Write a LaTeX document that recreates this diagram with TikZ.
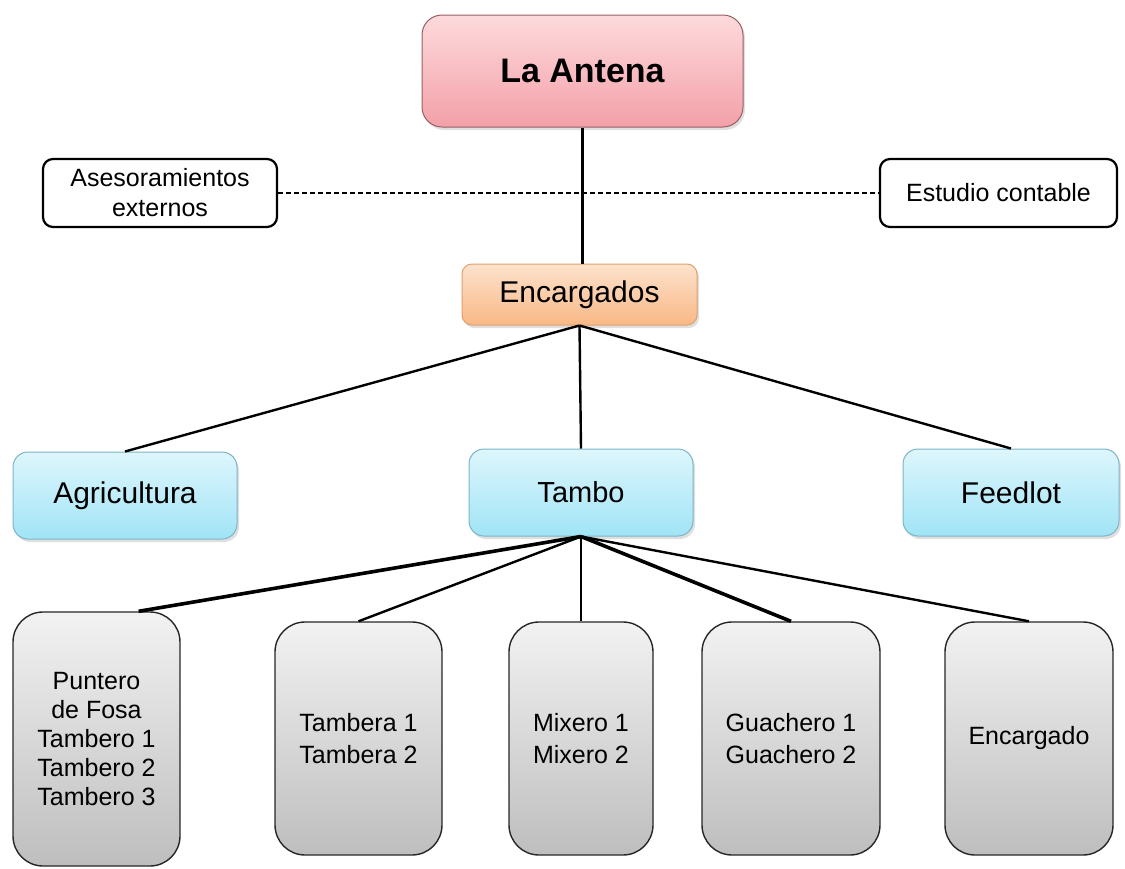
\documentclass[tikz,border=0pt]{standalone}
\usepackage{fontspec}
\setmainfont{Liberation Sans}
\usetikzlibrary{shadows,calc}

\definecolor{pinkTop}{RGB}{253,218,220}
\definecolor{pinkBot}{RGB}{243,160,168}
\definecolor{pinkLine}{RGB}{150,95,100}
\definecolor{orangeTop}{RGB}{253,226,204}
\definecolor{orangeBot}{RGB}{249,184,134}
\definecolor{orangeLine}{RGB}{222,160,110}
\definecolor{blueTop}{RGB}{222,246,252}
\definecolor{blueBot}{RGB}{160,228,246}
\definecolor{blueLine}{RGB}{125,180,200}
\definecolor{grayTop}{RGB}{242,242,242}
\definecolor{grayBot}{RGB}{190,190,190}

\tikzset{
  box/.style={rectangle, inner sep=0pt, align=center, text=black},
  headbox/.style={box, rounded corners=20pt, draw=pinkLine, line width=1pt,
    top color=pinkTop, bottom color=pinkBot,
    drop shadow={shadow xshift=2pt, shadow yshift=-3pt, opacity=0.25},
    font=\fontsize{34}{40}\selectfont\bfseries},
  sidebox/.style={box, rounded corners=10pt, draw=black, line width=2.2pt, fill=white,
    font=\fontsize{25}{30}\selectfont},
  managerbox/.style={box, rounded corners=10pt, draw=orangeLine, line width=1pt,
    top color=orangeTop, bottom color=orangeBot,
    drop shadow={shadow xshift=2pt, shadow yshift=-3pt, opacity=0.25},
    font=\fontsize{30}{36}\selectfont},
  areabox/.style={box, rounded corners=15pt, draw=blueLine, line width=1pt,
    top color=blueTop, bottom color=blueBot,
    drop shadow={shadow xshift=2pt, shadow yshift=-3pt, opacity=0.25},
    font=\fontsize{30}{36}\selectfont},
  staffbox/.style={box, rounded corners=30pt, draw=black!85, line width=1.4pt,
    top color=grayTop, bottom color=grayBot,
    font=\fontsize{25}{32}\selectfont},
  link/.style={draw=black, line width=2.4pt},
  thicklink/.style={draw=black, line width=3.6pt},
}

\begin{document}
\begin{tikzpicture}[x=1pt, y=1pt]
  \useasboundingbox (0,0) rectangle (1125,-868);

  % top of the organisation
  \node[headbox, minimum width=321pt, minimum height=112pt] (antena) at (582.5,-71) {La Antena};

  % external advisors
  \node[sidebox, minimum width=234pt, minimum height=68pt] (ases) at (160,-193)
    {Asesoramientos\\externos};
  \node[sidebox, minimum width=237pt, minimum height=68pt] (estud) at (998.5,-193)
    {Estudio contable};

  % managers
  \node[managerbox, minimum width=235pt, minimum height=61pt] (encarg) at (579.5,-294.5) {Encargados};

  % business areas
  \node[areabox, minimum width=224pt, minimum height=87pt] (agri) at (125,-495.5) {Agricultura};
  \node[areabox, minimum width=224pt, minimum height=87pt, font=\fontsize{29}{35}\selectfont] (tambo) at (581,-492.5) {Tambo};
  \node[areabox, minimum width=216pt, minimum height=87pt] (feed) at (1011,-492.5) {Feedlot};

  % dairy staff
  \node[staffbox, minimum width=167pt, minimum height=254pt, font=\fontsize{25}{29}\selectfont] (punt) at (96.5,-739)
    {Puntero\\de Fosa\\Tambero 1\\Tambero 2\\Tambero 3};
  \node[staffbox, minimum width=167pt, minimum height=233pt] (tambera) at (358.5,-738.5)
    {Tambera 1\\Tambera 2};
  \node[staffbox, minimum width=144pt, minimum height=233pt] (mixero) at (581,-738.5)
    {Mixero 1\\Mixero 2};
  \node[staffbox, minimum width=178pt, minimum height=233pt] (guach) at (791,-738.5)
    {Guachero 1\\Guachero 2};
  \node[staffbox, minimum width=168pt, minimum height=233pt] (encdo) at (1029,-738.5)
    {Encargado};

  % connectors
  \draw[thicklink] (antena.south) -- (antena.south |- encarg.north);
  \draw[black, line width=1.3pt, dash pattern=on 5pt off 3pt] (ases.east) -- (estud.west);

  \draw[link] (encarg.south) -- (agri.north);
  \draw[link] (encarg.south) -- (tambo.north);
  \draw[link] (encarg.south) -- (feed.north);

  \draw[thicklink] (tambo.south) -- ($(punt.north west)!0.75!(punt.north east)$);
  \draw[link] (tambo.south) -- (tambera.north);
  \draw[link] (tambo.south) -- (mixero.north);
  \draw[thicklink] (tambo.south) -- (guach.north);
  \draw[link] (tambo.south) -- (encdo.north);
\end{tikzpicture}
\end{document}
